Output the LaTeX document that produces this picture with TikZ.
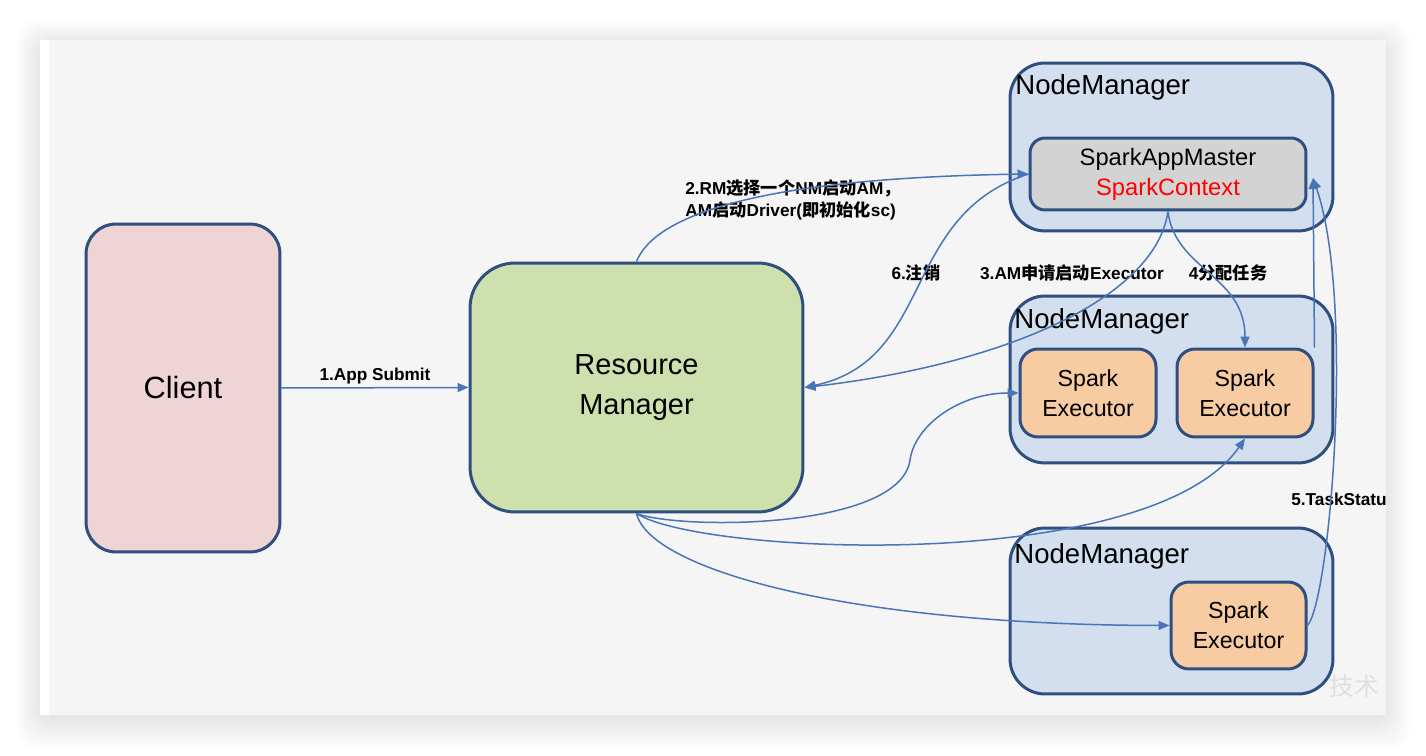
\documentclass[tikz,border=0pt]{standalone}
\usepackage{fontspec}
\setmainfont{Liberation Sans}
\newfontfamily\cjk{Noto Sans CJK SC}
\usetikzlibrary{arrows.meta}
\newcommand\zh[1]{{\cjk #1}}
\definecolor{bordc}{HTML}{2E4F7F}
\definecolor{clientc}{HTML}{EFD4D5}
\definecolor{rmc}{HTML}{CFE0AF}
\definecolor{nmc}{HTML}{D3DFEE}
\definecolor{amc}{HTML}{D3D3D3}
\definecolor{exc}{HTML}{F8CCA3}
\definecolor{arrc}{HTML}{4A74B8}
\definecolor{panelc}{HTML}{F5F5F5}
\definecolor{wmc}{HTML}{E0E0E0}
\begin{document}
\begin{tikzpicture}[x=0.02cm,y=-0.02cm,
  box/.style={draw=bordc, line width=0.06cm, inner sep=0pt, align=center},
  nmbox/.style={box, fill=nmc, rounded corners=0.7cm, minimum width=6.46cm},
  exbox/.style={box, fill=exc, rounded corners=0.36cm, font=\fontsize{13.2}{17}\selectfont},
  nmtitle/.style={anchor=west, inner sep=0pt, font=\fontsize{15.7}{18}\selectfont},
  lab/.style={inner sep=0pt, font=\fontsize{9.8}{12.5}\selectfont\bfseries},
  arr/.style={draw=arrc, line width=0.03cm, -{Triangle[length=0.22cm,width=0.18cm]}}]
\useasboundingbox (0,0) rectangle (1426,756);
% background and shadow
\fill[white] (0,0) rectangle (1426,756);
\foreach \i in {1,...,12}
  \fill[black, opacity=0.008, rounded corners=0.4cm] (40-2*\i,40-2*\i+4) rectangle (1386+2*\i,715+2.5*\i+4);
\fill[panelc] (40,40) rectangle (1386,715);
\fill[white] (40,40) rectangle (49,715);
% watermark
\node[inner sep=0pt, text=wmc, font=\cjk\fontsize{14}{14}\selectfont] (wm) at (1354,686) {技术};
% boxes
\node[box, fill=clientc, rounded corners=0.6cm, minimum width=3.88cm, minimum height=6.56cm,
      font=\fontsize{17.5}{20}\selectfont] (client) at (183,388) {Client};
\node[box, fill=rmc, rounded corners=0.9cm, minimum width=6.66cm, minimum height=4.98cm,
      font=\fontsize{16.5}{22.7}\selectfont] (rm) at (636.5,387.5) {Resource\\Manager};
\node[nmbox, minimum height=3.36cm] (nm1) at (1171.5,147) {};
\node[nmtitle] (nm1t) at (1015,87) {NodeManager};
\node[box, fill=amc, rounded corners=0.3cm, minimum width=5.52cm, minimum height=1.44cm,
      font=\fontsize{13.5}{17}\selectfont] (am) at (1168,174) {SparkAppMaster\\\textcolor{red}{SparkContext}};
\node[nmbox, minimum height=3.34cm] (nm2) at (1171.5,379.5) {};
\node[nmtitle] (nm2t) at (1014,321) {NodeManager};
\node[exbox, minimum width=2.72cm, minimum height=1.76cm] (e1) at (1088,393) {Spark\\Executor};
\node[exbox, minimum width=2.72cm, minimum height=1.76cm] (e2) at (1245,393) {Spark\\Executor};
\node[nmbox, minimum height=3.32cm] (nm3) at (1171.5,611) {};
\node[nmtitle] (nm3t) at (1014,556) {NodeManager};
\node[exbox, minimum width=2.70cm, minimum height=1.74cm] (e3) at (1238.5,625.5) {Spark\\Executor};
% labels
\node[lab] (l1) at (375,376) {1.App Submit};
\node[lab, anchor=west, align=left] (l2) at (685,200) {2.RM\zh{选择一个}NM\zh{启动}AM\zh{，}\\AM\zh{启动}Driver(\zh{即初始化}sc)};
\node[lab] (l6) at (916,273) {6.\zh{注销}};
\node[lab] (l3) at (1072,273) {3.AM\zh{申请启动}Executor};
\node[lab] (l4) at (1228,273) {4\zh{分配任务}};
\node[lab, anchor=west] (l5) at (1291,499) {5.TaskStatu};
% connectors
\coordinate (amin) at (1313,178);
\draw[arr] (client.east) -- (rm.west);
\draw[arr] (rm.north) .. controls (655,215) and (760,178) .. (am.west);
\draw[arr] (am.west) .. controls (900,215) and (935,360) .. (rm.east);
\draw[arr] (am.south) .. controls (1155,300) and (1000,365) .. (rm.east);
\draw[arr] (am.south) .. controls (1175,270) and (1245,275) .. (e2.north);
\draw[arr] (e2.north east) -- (amin);
\draw[arr] (e3.east) .. controls (1330,600) and (1355,300) .. (amin);
\draw[arr] (rm.south) .. controls (680,530) and (900,530) .. (910,460) .. controls (915,425) and (960,393) .. (e1.west);
\draw[arr] (rm.south) .. controls (700,555) and (1150,575) .. (e2.south);
\draw[arr] (rm.south) .. controls (650,570) and (850,625) .. (e3.west);
\end{tikzpicture}
\end{document}
